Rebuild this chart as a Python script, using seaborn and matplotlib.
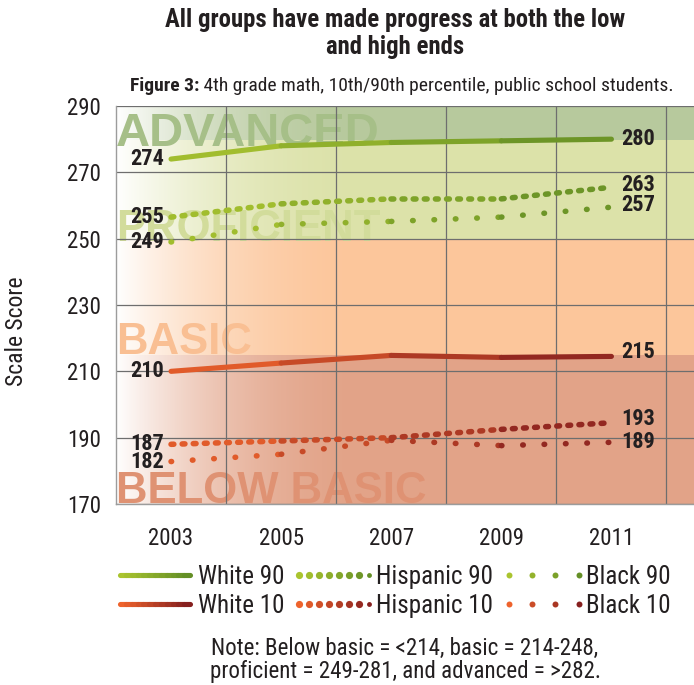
import numpy as np
import matplotlib
matplotlib.use("Agg")
import matplotlib.pyplot as plt
import seaborn as sns
from matplotlib.colors import LinearSegmentedColormap
from matplotlib.collections import LineCollection
from matplotlib.legend_handler import HandlerBase
from matplotlib.lines import Line2D

# Data (NAEP 4th grade math, 10th/90th percentile)
years = [2003, 2005, 2007, 2009, 2011]
series_names = ["White 90", "Hispanic 90", "Black 90", "White 10", "Hispanic 10", "Black 10"]
white_90 = [274, 278, 279, 279.5, 280]
hispanic_90 = [256.5, 260.5, 262, 262, 265.5]
black_90 = [249, 254.3, 255.2, 256.5, 259.5]
white_10 = [210, 212.5, 214.8, 214.2, 214.5]
hispanic_10 = [188, 189, 190, 192.5, 194.5]
black_10 = [182.8, 185, 189.2, 187.6, 188.6]
start_labels = [274, 255, 249, 210, 187, 182]
end_labels = [280, 263, 257, 215, 193, 189]

# achievement level bands
band_edges = [170, 214.8, 250, 279.6, 290]
band_names = ["BELOW BASIC", "BASIC", "PROFICIENT", "ADVANCED"]

series_values = [white_90, hispanic_90, black_90, white_10, hispanic_10, black_10]

# Styling
band_colors = ["#e2a388", "#fcc69b", "#dce2a9", "#b7c99d"]
band_text_colors = ["#df9273", "#f9bf93", "#d2dc9b", "#a6bf88"]
band_text_y = [170.3, 215.2, 249.2, 277.8]
band_text_size = [31.5, 31.5, 31.5, 34]
green = LinearSegmentedColormap.from_list("green", ["#aac42f", "#648f26"])
red = LinearSegmentedColormap.from_list("red", ["#ee632c", "#86201f"])
cmaps = [green, green, green, red, red, red]
kinds = ["solid", "dense", "sparse", "solid", "dense", "sparse"]
line_styles = {
    "solid": dict(linestyle="-", lw=3.7),
    "dense": dict(linestyle=(0, (0.5, 1.5)), lw=4.0),
    "sparse": dict(linestyle=(0, (0.1, 3.75)), lw=4.0),
}
label_nudge = {215: 3, 193: 3, 263: 1.5, 257: 1.5}
ink = "#231f20"

sns.set_theme(style="white")
plt.rcParams["font.family"] = ["Roboto Condensed", "DejaVu Sans"]
plt.rcParams["text.color"] = ink

fig = plt.figure(figsize=(6.94, 6.85), dpi=100)
ax = fig.add_axes([116 / 694, 1 - 504 / 685, 578 / 694, 398 / 685])

# background bands
for lo, hi, c in zip(band_edges[:-1], band_edges[1:], band_colors):
    ax.axhspan(lo, hi, color=c, lw=0, zorder=0)

# white fade on the left side
xg = np.linspace(2002, 2012.5, 500)
fade = np.ones((1, xg.size, 4))
fade[..., 3] = np.clip(1 - (xg - 2002) / 4.6, 0, 1) ** 2
ax.imshow(fade, extent=[2002, 2012.5, 170, 290], aspect="auto", zorder=0.5,
          interpolation="bilinear")

for name, y, c, fs in zip(band_names, band_text_y, band_text_colors, band_text_size):
    ax.text(2002.0, y, name, family=["Liberation Sans", "DejaVu Sans"], fontweight="bold",
            fontsize=fs, color=c, ha="left", va="baseline", zorder=1, clip_on=True)

# lines, one segment at a time so the colour shifts along the line
for name, vals, cmap, kind in zip(series_names, series_values, cmaps, kinds):
    st = line_styles[kind]
    n = len(years) - 1
    for i in range(n):
        sns.lineplot(x=years[i:i + 2], y=vals[i:i + 2], ax=ax, color=cmap((i + 0.5) / n),
                     linestyle=st["linestyle"], lw=st["lw"], solid_capstyle="round",
                     dash_capstyle="round", legend=False, zorder=3)

for vals, s_lab, e_lab in zip(series_values, start_labels, end_labels):
    ax.annotate(str(s_lab), xy=(years[0], vals[0]), xytext=(-4.8, label_nudge.get(s_lab, 0)),
                textcoords="offset points", ha="right", va="center", fontsize=16,
                fontweight="bold", color=ink, zorder=4)
    ax.annotate(str(e_lab), xy=(years[-1], vals[-1]), xytext=(6.8, label_nudge.get(e_lab, 0)),
                textcoords="offset points", ha="left", va="center", fontsize=16,
                fontweight="bold", color=ink, zorder=4)

ax.set_xlim(2002, 2012.5)
ax.set_ylim(170, 290)
ax.set_xticks(years)
ax.set_xticks(np.arange(2004, 2013, 2), minor=True)
ax.set_yticks(np.arange(170, 291, 20))
ax.set_axisbelow("line")
ax.grid(False)
ax.grid(True, which="minor", axis="x", color="#6e6e6e", lw=0.9)
ax.grid(True, which="major", axis="y", color="#6e6e6e", lw=0.9)
ax.tick_params(which="both", length=0)
ax.tick_params(axis="y", pad=11, labelsize=16.5, labelcolor=ink)
ax.tick_params(axis="x", pad=16.5, labelsize=16.5, labelcolor=ink)
ax.set_xlabel("")
ax.set_ylabel("")
for side in ["top", "right"]:
    ax.spines[side].set_visible(False)
for side in ["left", "bottom"]:
    ax.spines[side].set_color("#9c9c9c")
    ax.spines[side].set_linewidth(1.0)

fig.text(17 / 694, 1 - 331 / 685, "Scale Score", rotation=90, ha="center", va="center",
         fontsize=17)

# titles
fig.text(395 / 694, 1 - 8 / 685, "All groups have made progress at both the low\nand high ends",
         ha="center", va="top", fontsize=17.8, fontweight="bold", linespacing=1.15)
fig_lab = fig.text(130 / 694, 1 - 86 / 685, "Figure 3:", ha="left", va="center",
                   fontsize=14, fontweight="bold")
ax.annotate(" 4th grade math, 10th/90th percentile, public school students.", xy=(1, 0),
            xycoords=fig_lab, ha="left", va="bottom", fontsize=14, annotation_clip=False)


# legend with gradient keys
class LegendKey:
    def __init__(self, cmap, kind):
        self.cmap = cmap
        self.kind = kind


class GradientHandler(HandlerBase):
    def create_artists(self, legend, orig_handle, xdescent, ydescent, width, height,
                       fontsize, trans):
        y = height / 2 - ydescent
        cmap = orig_handle.cmap
        if orig_handle.kind == "solid":
            n = 12
            xs = np.linspace(-xdescent, width - xdescent, n + 1)
            segs = [[(xs[i], y), (xs[i + 1], y)] for i in range(n)]
            lc = LineCollection(segs, colors=cmap(np.linspace(0, 1, n)), linewidths=3.7,
                                capstyle="round", transform=trans)
            return [lc]
        n = 8 if orig_handle.kind == "dense" else 4
        xs = np.linspace(-xdescent, width - xdescent, n)
        arts = []
        for i, x in enumerate(xs):
            ms = 5.2 if orig_handle.kind == "dense" else 4.3
            if orig_handle.kind == "dense" and i == n - 1:
                ms = 3.5
            arts.append(Line2D([x], [y], marker="o", ms=ms, mew=0, color=cmap(i / (n - 1)),
                               transform=trans))
        return arts


handles = [LegendKey(c, k) for c, k in zip(cmaps, kinds)]
order = [0, 3, 1, 4, 2, 5]
fig.legend([handles[i] for i in order], [series_names[i] for i in order], ncol=3,
           loc="upper left", bbox_to_anchor=(120 / 694, 1 - 565 / 685), frameon=False,
           fontsize=18, handlelength=2.8, handletextpad=0.3, columnspacing=0.6,
           labelspacing=0.2, borderaxespad=0, borderpad=0,
           handler_map={LegendKey: GradientHandler()})

fig.text(405 / 694, 1 - 660 / 685,
         "Note: Below basic = <214, basic = 214-248,\nproficient = 249-281, and advanced = >282.",
         ha="center", va="center", fontsize=16.6, linespacing=0.98)

fig.savefig("out.png", dpi=100)
